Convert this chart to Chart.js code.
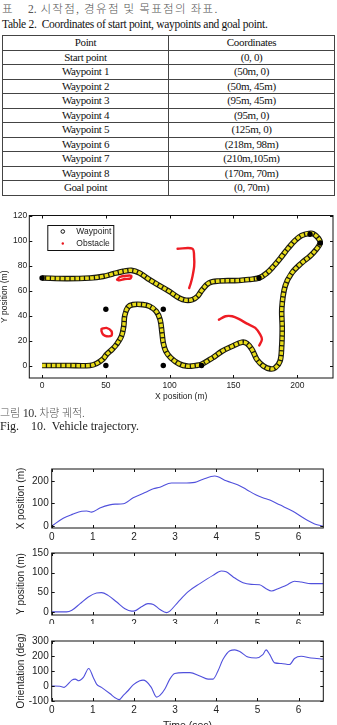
<!DOCTYPE html>
<html>
<head>
<meta charset="utf-8">
<script src="https://cdn.jsdelivr.net/npm/chart.js@4.4.0/dist/chart.umd.min.js"></script>
<style>
    body { margin: 0; width: 337px; height: 725px; overflow: hidden; background: #fff; position: relative; }
    .abs { position: absolute; white-space: nowrap; }
    .kr { font-family: "Noto Sans CJK KR"; color: #555; font-size: 11px; font-weight: 300; }
    .serif { font-family: "Liberation Serif"; color: #111; font-size: 11px; letter-spacing: -0.3px; }
    #tbl { position: absolute; left: 2px; top: 35px; width: 333px; border-collapse: collapse; }
    #tbl td { border: 1px solid #444; padding: 0; height: 13.5px; line-height: 13px; text-align: center;
              font-family: "Liberation Serif"; font-size: 11px; letter-spacing: -0.35px; color: #111; }
    canvas { position: absolute; left: 0; }
</style>
</head>
<body>

<div class="abs kr" style="left:2px; top:0px; font-size:11.5px;">표</div>
<div class="abs kr" style="left:28px; top:0px; font-size:11.5px; letter-spacing:1.3px;"><span class="serif" style="font-size:11.5px;color:#555;letter-spacing:0">2.</span> 시작점, 경유점 및 목표점의 좌표.</div>
<div class="abs serif" style="left:2px; top:18px; font-size:11.5px;">Table 2.&nbsp; Coordinates of start point, waypoints and goal point.</div>
<table id="tbl"></table>

<canvas id="traj" width="337" height="200" style="top:205px;"></canvas>

<div class="abs kr" style="left:0px; top:404px;">그림 <span class="serif" style="font-size:12px;color:#333">10.</span> 차량 궤적.</div>
<div class="abs serif" style="left:0px; top:419px; font-size:12px; letter-spacing:0; color:#222;">Fig.&nbsp;&nbsp;&nbsp; 10.&nbsp; Vehicle trajectory.</div>

<canvas id="cX" width="337" height="84" style="top:460px;"></canvas>
<canvas id="cY" width="337" height="80" style="top:544px;"></canvas>
<canvas id="cO" width="337" height="100" style="top:632px;"></canvas>

<script>
// ---- table data ----
const pointNames = ['Point', 'Start point', 'Waypoint 1', 'Waypoint 2', 'Waypoint 3', 'Waypoint 4',
    'Waypoint 5', 'Waypoint 6', 'Waypoint 7', 'Waypoint 8', 'Goal point'];
const pointCoords = ['Coordinates', '(0, 0)', '(50m, 0)', '(50m, 45m)', '(95m, 45m)', '(95m, 0)',
    '(125m, 0)', '(218m, 98m)', '(210m,105m)', '(170m, 70m)', '(0, 70m)'];

// ---- trajectory (m) ----
const pathX = [0, 20, 37.6, 42.7, 47.9, 50.5, 55, 58.3, 62.2, 64, 64.8, 67.4, 71.2, 79, 84.2, 89.4, 92.5, 94, 95, 97,
    101, 107.5, 114, 120.5, 125, 133.4, 141, 149, 156.7, 160.6, 164.5, 168.4, 173.6, 178.8, 182.6, 186.5, 187.8, 188.2,
    187.9, 190.5, 195.7, 203.4, 210, 215, 218, 216.4, 212.5, 209.2, 203.4, 198.3, 193, 188, 181.4, 176.2, 170, 162,
    154.2, 149, 138.6, 130.8, 125.6, 121.8, 117.9, 112.7, 107.5, 99.7, 92, 84.2, 76.4, 70, 63.5, 55.7, 47.9, 37.6, 19.4, 0];
const pathY = [0, 0, 0, 1.6, 5.3, 8.8, 13, 16.8, 23.4, 31.4, 40, 46.8, 48.7, 48.7, 47.4, 43.4, 36.7, 26, 18, 11.4,
    6, 1.3, -0.5, 0, 1, 6, 11.4, 15.4, 18.6, 17.6, 12.8, 4.8, -0.5, -2.7, -1.9, 3.5, 15.4, 30,
    46, 63.5, 74, 82, 87.5, 93, 98, 102, 105.4, 105.6, 104, 100, 94, 87.5, 79.4, 74, 70, 68.8,
    68, 67.9, 67.6, 66, 60.7, 55.3, 52.7, 52.2, 54, 59.3, 63.9, 68.7, 74, 76.1, 75.3, 73.4, 71.3, 70, 69.5, 70];

const wpX = [50, 50, 95, 95, 125, 218, 210, 170, 0];
const wpY = [0, 45, 45, 0, 0, 98, 105, 70, 70];

const obs1X = [58.8, 60.9, 66.1, 69.9, 69.4, 64.8, 60.4, 58.8];
const obs1Y = [68.7, 70.8, 71.8, 71.8, 69.7, 69.2, 68.1, 68.7];
const obs2X = [46.6, 50.5, 54.4, 54.4, 50.5, 47.9, 46.6, 46.6];
const obs2Y = [29.3, 30.1, 27.4, 23.9, 23.4, 24.7, 27.4, 29.3];
const obs3X = [106.2, 117.9, 119.2, 119.2, 117.9, 116.6, 115.3];
const obs3Y = [93.4, 93.4, 85.9, 79.3, 71.3, 66, 62];
const obs4X = [138.6, 143.8, 149, 154.1, 160.6, 167.1, 171, 172.3, 170.2];
const obs4Y = [36.7, 39.4, 39.4, 37.3, 33.5, 30.1, 24.7, 20.8, 16];

const trajXTicks = [0, 50, 100, 150, 200];
const trajYTicks = [0, 20, 40, 60, 80, 100, 120];

// ---- time histories ----
const timeTicks = [0, 1, 2, 3, 4, 5, 6];

const tX = [0, 0.28, 0.5, 0.73, 0.85, 0.97, 1.17, 1.41, 1.54, 1.74, 1.98, 2.3, 2.47, 2.63, 2.91, 3.19, 3.48, 3.68, 3.96,
    4.04, 4.24, 4.53, 4.73, 4.97, 5.13, 5.3, 5.54, 5.86, 6.1, 6.39, 6.6];
const posX = [0, 35, 52, 66, 67, 62, 80, 94, 97, 98.6, 125, 151, 165, 172, 190, 190, 193, 207, 221,
    218, 200, 182, 162, 137, 125, 115, 94, 66, 38, 10, 0];
const xTicksY1 = [0, 100, 200];

const tY = [0, 0.36, 0.49, 0.69, 0.89, 1.09, 1.21, 1.37, 1.58, 1.78, 1.94, 2.02, 2.18, 2.34, 2.47, 2.63, 2.79, 2.87,
    3.07, 3.31, 3.6, 3.92, 4.12, 4.24, 4.41, 4.65, 4.85, 5.05, 5.21, 5.34, 5.5, 5.74, 5.9, 6.06, 6.3, 6.6];
const posY = [0, 0, 4, 21, 38, 48, 49, 42, 25, 8, 2, 2.5, 13, 21, 19, 6, -2, 2,
    25, 51, 72, 93, 104, 102, 89, 74, 70, 69, 59, 53, 59, 70, 78, 76, 72, 72];
const yTicksY2 = [0, 50, 100, 150];

const tO = [0, 0.2, 0.3, 0.36, 0.49, 0.57, 0.66, 0.77, 0.9, 1.01, 1.09, 1.21, 1.42, 1.54, 1.64, 1.74, 1.86, 1.98,
    2.14, 2.22, 2.3, 2.42, 2.55, 2.63, 2.75, 2.87, 2.99, 3.2, 3.36, 3.6, 3.8, 3.92, 4.04, 4.16, 4.33, 4.45, 4.57,
    4.77, 4.97, 5.13, 5.21, 5.3, 5.42, 5.58, 5.78, 5.9, 6.06, 6.3, 6.6];
const orient = [0, -2, -9, 2, 39, 46, 35, 57, 117, 57, 13, -9, -52, -78, -91, -63, -30, 7,
    35, 39, 30, -9, -74, -63, -20, 46, 83, 89, 89, 67, 46, 46, 100, 176, 235, 241, 230,
    193, 187, 209, 241, 209, 154, 150, 143, 183, 198, 187, 180];
const yTicksY3 = [-100, 0, 100, 200, 300];

// build the table
const tbl = document.getElementById('tbl');
for (let i = 0; i < pointNames.length; i++) {
    const tr = document.createElement('tr');
    tr.innerHTML = '<td style="width:165px">' + pointNames[i] + '</td><td>' + pointCoords[i] + '</td>';
    tbl.appendChild(tr);
}

Chart.defaults.font.family = '"Liberation Sans", Arial, sans-serif';
Chart.defaults.color = '#222';

function toXY(xs, ys) {
    return xs.map((v, i) => ({ x: v, y: ys[i] }));
}

// box + inward ticks on all four sides, matlab style
const frameTicks = {
    id: 'frameTicks',
    afterDatasetsDraw(chart) {
        const { ctx, chartArea: a, scales } = chart;
        ctx.save();
        ctx.strokeStyle = '#111';
        ctx.lineWidth = 1;
        ctx.strokeRect(a.left, a.top, a.right - a.left, a.bottom - a.top);
        const len = 3;
        ctx.beginPath();
        scales.x.ticks.forEach(t => {
            const px = Math.round(scales.x.getPixelForValue(t.value)) + 0.5;
            ctx.moveTo(px, a.bottom); ctx.lineTo(px, a.bottom - len);
            ctx.moveTo(px, a.top); ctx.lineTo(px, a.top + len);
        });
        scales.y.ticks.forEach(t => {
            const py = Math.round(scales.y.getPixelForValue(t.value)) + 0.5;
            ctx.moveTo(a.left, py); ctx.lineTo(a.left + len, py);
            ctx.moveTo(a.right, py); ctx.lineTo(a.right - len, py);
        });
        ctx.stroke();
        ctx.restore();
    }
};

// legend box inside the trajectory plot
const insideLegend = {
    id: 'insideLegend',
    afterDraw(chart) {
        const { ctx, chartArea: a } = chart;
        const x0 = a.left + 18, y0 = a.top + 9.5;
        ctx.save();
        ctx.fillStyle = '#fff';
        ctx.fillRect(x0, y0, 66, 25);
        ctx.strokeStyle = '#111';
        ctx.lineWidth = 1;
        ctx.strokeRect(x0 + 0.5, y0 + 0.5, 66, 25);
        ctx.beginPath();
        ctx.arc(x0 + 15.5, y0 + 6.5, 1.8, 0, Math.PI * 2);
        ctx.stroke();
        ctx.fillStyle = '#e8141c';
        ctx.beginPath();
        ctx.arc(x0 + 15.5, y0 + 18.5, 1.2, 0, Math.PI * 2);
        ctx.fill();
        ctx.fillStyle = '#222';
        ctx.font = '8.5px "Liberation Sans"';
        ctx.textBaseline = 'middle';
        ctx.fillText('Waypoint', x0 + 29, y0 + 6.5);
        ctx.fillText('Obstacle', x0 + 29, y0 + 18.5);
        ctx.restore();
    }
};

function obstacle(xs, ys) {
    return {
        data: toXY(xs, ys), showLine: true, borderColor: '#ee1c24', borderWidth: 2.4,
        pointRadius: 0, tension: 0.3, borderCapStyle: 'round'
    };
}

const noGrid = { display: false, drawTicks: false };

new Chart(document.getElementById('traj'), {
    type: 'scatter',
    data: {
        datasets: [
            { data: toXY(wpX, wpY), pointRadius: 2.7, pointBackgroundColor: '#000', pointBorderColor: '#000', pointBorderWidth: 0 },
            obstacle(obs1X, obs1Y),
            obstacle(obs2X, obs2Y),
            obstacle(obs3X, obs3Y),
            obstacle(obs4X, obs4Y),
            {
                data: toXY(pathX, pathY), showLine: true, borderColor: '#e9dd1a', borderWidth: 3.4,
                borderDash: [3.6, 1.3], pointRadius: 0, tension: 0.35
            },
            {
                data: toXY(pathX, pathY), showLine: true, borderColor: '#1a1a10', borderWidth: 5.6,
                pointRadius: 0, tension: 0.35
            }
        ]
    },
    options: {
        responsive: false,
        animation: false,
        devicePixelRatio: 1,
        layout: { padding: { top: 10.5, right: 2, left: 0, bottom: 0 } },
        plugins: { legend: { display: false }, tooltip: { enabled: false } },
        scales: {
            x: {
                type: 'linear', min: -10, max: 228,
                grid: noGrid, border: { display: false },
                ticks: { font: { size: 8.5 }, padding: 3 },
                afterBuildTicks: s => { s.ticks = trajXTicks.map(v => ({ value: v })); },
                afterFit: s => { s.height = 27; },
                title: { display: true, text: 'X position (m)', font: { size: 8.5 }, padding: { top: 0, bottom: 3.5 } }
            },
            y: {
                type: 'linear', min: -10, max: 120,
                grid: noGrid, border: { display: false },
                ticks: { font: { size: 8.5 }, padding: 2 },
                afterBuildTicks: s => { s.ticks = trajYTicks.map(v => ({ value: v })); },
                afterFit: s => { s.width = 29.3; },
                title: { display: true, text: 'Y position (m)', font: { size: 8.5 }, padding: { top: 0, bottom: 0 } }
            }
        }
    },
    plugins: [frameTicks, insideLegend]
});

// one small time plot
function timePlot(id, xs, ys, yMin, yMax, yTicks, yTitle, padTop, xH, xTitle) {
    new Chart(document.getElementById(id), {
        type: 'scatter',
        data: {
            datasets: [{
                data: toXY(xs, ys), showLine: true, borderColor: '#5050dc', borderWidth: 1.1,
                pointRadius: 0, tension: 0.4, cubicInterpolationMode: 'monotone'
            }]
        },
        options: {
            responsive: false,
            animation: false,
            devicePixelRatio: 1,
            layout: { padding: { top: padTop, right: 13.7, left: 0, bottom: 0 } },
            plugins: { legend: { display: false }, tooltip: { enabled: false } },
            scales: {
                x: {
                    type: 'linear', min: 0, max: 6.6,
                    grid: noGrid, border: { display: false },
                    ticks: { font: { size: 10 }, padding: 3 },
                    afterBuildTicks: s => { s.ticks = timeTicks.map(v => ({ value: v })); },
                    afterFit: s => { s.height = xH; },
                    title: { display: !!xTitle, text: xTitle || '', font: { size: 10.5 }, padding: { top: 0, bottom: 0 } }
                },
                y: {
                    type: 'linear', min: yMin, max: yMax,
                    grid: noGrid, border: { display: false },
                    ticks: { font: { size: 10 }, padding: 3 },
                    afterBuildTicks: s => { s.ticks = yTicks.map(v => ({ value: v })); },
                    afterFit: s => { s.width = 51.7; },
                    title: { display: true, text: yTitle, font: { size: 10 }, padding: { top: 15, bottom: 0 } }
                }
            }
        },
        plugins: [frameTicks]
    });
}

timePlot('cX', tX, posX, -8, 252, xTicksY1, 'X position (m)', 5, 16);
timePlot('cY', tY, posY, -8, 150, yTicksY2, 'Y position (m)', 6, 9);
timePlot('cO', tO, orient, -100, 300, yTicksY3, 'Orientation (deg)', 7, 31, 'Time (sec)');
</script>
</body>
</html>
